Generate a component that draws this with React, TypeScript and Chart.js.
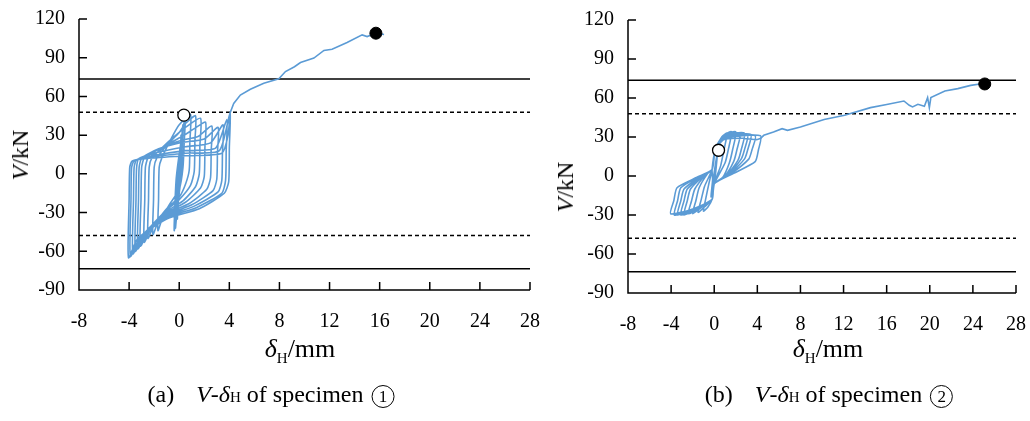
import React, { useEffect, useRef } from "react";
import { Chart, registerables } from "chart.js";

Chart.register(...registerables);

type Pt = [number, number];

const xTicks = [-8, -4, 0, 4, 8, 12, 16, 20, 24, 28];
const yTicks = [-90, -60, -30, 0, 30, 60, 90, 120];
const limitSolid = 73.6;
const limitDashed = 47.8;

const spec1Cycles: Pt[] = [
  [0, 0], [0.15, 30], [0.05, 2], [-0.15, -35], [-0.05, -2],
  [0.3, 38], [0.15, 5], [-0.1, -20], [-0.3, -42], [-0.15, -8], [0.05, 15],
  [0.45, 43], [0.3, 10], [0, -15], [-0.4, -44], [-0.25, -5], [0.1, 22],
  [0.5, 45], [0.4, 25], [0.3, 5], [0, -12], [-0.8, -24], [-1.3, -33], [-1.7, -44], [-1.65, -20], [-1.6, 5], [-1.4, 12], [-0.6, 28], [0, 38],
  [0.9, 46], [0.85, 25], [0.8, 3], [0.5, -8], [0, -18], [-0.9, -26], [-1.6, -35], [-2.1, -47], [-2.05, -20], [-2, 5], [-1.8, 12], [-1, 22], [0, 32], [0.5, 39],
  [1.3, 45], [1.25, 25], [1.2, 2], [0.9, -9], [0, -20], [-1, -28], [-1.9, -37], [-2.5, -50], [-2.45, -20], [-2.4, 5], [-2.2, 12], [-1.5, 19], [-0.5, 28], [0.5, 36],
  [1.7, 43], [1.65, 22], [1.6, 0], [1.3, -10], [0.3, -21], [-1, -29], [-2.1, -39], [-2.8, -53], [-2.75, -20], [-2.7, 5], [-2.5, 12], [-1.7, 17], [-0.7, 24], [0.4, 30], [1.2, 35],
  [2.1, 40], [2.05, 20], [2, -2], [1.7, -11], [0.5, -22], [-1, -30], [-2.3, -41], [-3.1, -56], [-3.05, -20], [-3, 5], [-2.8, 12], [-2, 17], [-1, 22], [0.2, 26], [1.5, 29],
  [2.6, 37], [2.55, 18], [2.5, -3], [2.2, -12], [0.8, -23], [-1, -31], [-2.5, -43], [-3.3, -58], [-3.25, -20], [-3.2, 5], [-3, 12], [-2, 18], [0, 24], [2, 27],
  [3.1, 36], [3.05, 16], [3, -4], [2.7, -13], [1, -24], [-1, -32], [-2.7, -45], [-3.5, -60], [-3.45, -20], [-3.4, 5], [-3.2, 12], [-2, 16], [0.5, 21], [2.5, 24],
  [3.5, 38], [3.45, 16], [3.4, -5], [3.1, -14], [1.2, -25], [-1, -33], [-2.9, -47], [-3.7, -62], [-3.65, -20], [-3.6, 5], [-3.4, 11], [-2.2, 14], [0.5, 18], [2.9, 20],
  [3.8, 42], [3.75, 18], [3.7, -5], [3.4, -15], [1.4, -26], [-1, -34], [-3.1, -49], [-3.9, -64], [-3.85, -20], [-3.8, 5], [-3.6, 10], [-2.4, 13], [0.5, 16], [3.2, 18],
  [4.05, 47], [4, 20], [3.95, -6], [3.6, -15], [1.6, -27], [-1, -35], [-3.3, -50], [-4.05, -65], [-4, -20], [-3.95, 5], [-3.75, 10], [-2.6, 12], [0.5, 14], [3.4, 16], [3.9, 30], [4.05, 47],
];

const spec1Push: Pt[] = [
  [4.05, 47], [4.35, 54.6], [4.88, 61.1], [5.68, 65.5], [6.75, 70.2], [7.95, 73.6], [8.48, 79.3],
  [9.2, 83], [9.68, 86.3], [10.75, 89.7], [11.55, 95.6], [12.2, 96.6], [13.4, 101.8], [14.6, 107.7],
  [15, 106.4], [15.7, 109], [16.35, 108],
];

const spec1Yield: Pt = [0.37, 45.5];
const spec1Peak: Pt = [15.7, 109];

const spec2Cycles: Pt[] = [
  [0, 0], [0.2, 10], [0.05, 0], [-0.2, -10], [-0.05, 0],
  [0.3, 18], [0.15, 4], [0, -5], [-0.3, -16], [-0.15, -3], [-0.2, 5],
  [0.1, 20], [0.7, 30], [1.2, 33], [0.9, 20], [0.6, 8], [0, -6], [-0.2, -18], [-0.6, -24], [-1.0, -27], [-0.8, -18], [-0.5, -6], [-0.2, 5],
  [0.1, 21], [0.8, 31], [1.6, 34], [1.3, 20], [1.0, 10], [0, -6], [-0.2, -18], [-0.8, -23], [-1.5, -28], [-1.2, -18], [-0.9, -8], [-0.2, 5],
  [0.1, 21], [0.9, 31], [2.0, 34], [1.7, 20], [1.4, 10], [0.8, -1], [0, -6], [-0.2, -18], [-1, -23], [-2, -29], [-1.7, -19], [-1.4, -9], [-0.6, 2], [-0.2, 5],
  [0.1, 21], [0.9, 31], [2.4, 33], [2.1, 20], [1.8, 11], [1, 0], [0, -6], [-0.2, -18], [-1.2, -24], [-2.4, -29], [-2.1, -19], [-1.8, -10], [-0.8, 1], [-0.2, 5],
  [0.1, 21], [0.9, 31], [2.8, 33], [2.5, 20], [2.2, 12], [1.2, 1], [0, -6], [-0.2, -18], [-1.4, -24], [-2.8, -30], [-2.5, -19], [-2.2, -10], [-1, 0], [-0.2, 5],
  [0.1, 21], [0.9, 31], [3.1, 32], [2.8, 20], [2.5, 13], [1.4, 2], [0, -6], [-0.2, -18], [-1.6, -25], [-3.1, -30], [-2.8, -19], [-2.5, -10], [-1.2, -1], [-0.2, 5],
  [0.1, 21], [0.9, 30], [3.4, 32], [3.1, 20], [2.8, 13], [1.5, 2], [0, -6], [-0.2, -18], [-1.8, -25], [-3.4, -30], [-3.1, -19], [-2.8, -10], [-1.4, -1], [-0.2, 5],
  [0.1, 20], [0.9, 30], [3.8, 31], [3.5, 20], [3.2, 13], [1.6, 2], [0, -6], [-0.2, -18], [-2, -26], [-3.7, -30], [-3.4, -19], [-3.1, -9], [-1.5, -1], [-0.2, 5],
  [0.1, 20], [0.9, 29], [4.3, 31], [4.1, 20], [3.8, 11], [1.8, 2], [0, -6], [-0.2, -18], [-2.2, -26], [-4.05, -29], [-3.75, -19], [-3.45, -9], [-1.6, -1], [-0.2, 5],
  [0.1, 20], [0.9, 28], [2.6, 29], [3.9, 28], [4.3, 29],
];

const spec2Push: Pt[] = [
  [4.3, 29], [4.6, 31.3], [5.5, 33.8], [6.3, 36.4], [6.8, 35.1], [8, 37.7], [10.2, 43.4],
  [12.1, 46.7], [14.5, 52.6], [16, 55], [17.6, 57.7], [18.1, 54.4], [18.4, 53.1], [18.9, 55.2],
  [19.5, 53.6], [19.8, 60.3], [19.96, 52.6], [20.1, 60.3], [21.4, 65.4], [22.6, 67.2], [23.8, 69.7],
  [24.8, 71], [25.4, 71],
];

const spec2Yield: Pt = [0.4, 19.8];
const spec2Peak: Pt = [25.1, 70.8];

const CURVE = "#5B9BD5";
const FONT = "'Liberation Serif', 'Times New Roman', serif";

const toXY = (p: Pt[]) => p.map(([x, y]) => ({ x, y }));

const axesPlugin = {
  id: "innerAxes",
  afterDraw(chart: any) {
    const { ctx, chartArea: a, scales } = chart;
    const xs = scales.x;
    const ys = scales.y;
    ctx.save();
    ctx.strokeStyle = "#000";
    ctx.lineWidth = 1.5;
    ctx.beginPath();
    ctx.moveTo(a.left, a.top);
    ctx.lineTo(a.left, a.bottom);
    ctx.lineTo(a.right, a.bottom);
    for (const v of xTicks) {
      const px = xs.getPixelForValue(v);
      ctx.moveTo(px, a.bottom);
      ctx.lineTo(px, a.bottom - 8);
    }
    for (const v of yTicks) {
      const py = ys.getPixelForValue(v);
      ctx.moveTo(a.left, py);
      ctx.lineTo(a.left + 8, py);
    }
    ctx.stroke();
    ctx.restore();
  },
};

function hLine(v: number, dashed: boolean) {
  return {
    data: [
      { x: xTicks[0], y: v },
      { x: xTicks[xTicks.length - 1], y: v },
    ],
    showLine: true,
    borderColor: "#000",
    borderWidth: 1.5,
    borderDash: dashed ? [4, 3] : [],
    pointRadius: 0,
  };
}

function makeConfig(cycles: Pt[], push: Pt[], yieldPt: Pt, peakPt: Pt, yWidth: number, xHeight: number, padding: any): any {
  return {
    type: "scatter",
    data: {
      datasets: [
        { data: [{ x: yieldPt[0], y: yieldPt[1] }], pointRadius: 6, pointBackgroundColor: "#fff", pointBorderColor: "#000", pointBorderWidth: 1.3 },
        { data: [{ x: peakPt[0], y: peakPt[1] }], pointRadius: 6, pointBackgroundColor: "#000", pointBorderColor: "#000", pointBorderWidth: 1 },
        { data: toXY(cycles), showLine: true, borderColor: CURVE, borderWidth: 1.6, pointRadius: 0, tension: 0.2 },
        { data: toXY(push), showLine: true, borderColor: CURVE, borderWidth: 1.6, pointRadius: 0, tension: 0 },
        hLine(limitSolid, false),
        hLine(-limitSolid, false),
        hLine(limitDashed, true),
        hLine(-limitDashed, true),
      ],
    },
    options: {
      responsive: false,
      animation: false,
      devicePixelRatio: 1,
      layout: { padding },
      plugins: { legend: { display: false }, tooltip: { enabled: false } },
      events: [],
      scales: {
        x: {
          type: "linear",
          min: xTicks[0],
          max: xTicks[xTicks.length - 1],
          afterBuildTicks: (s: any) => { s.ticks = xTicks.map((v) => ({ value: v })); },
          afterFit: (s: any) => { s.height = xHeight; },
          grid: { display: true, drawOnChartArea: false, drawTicks: true, tickLength: 20, color: "rgba(0,0,0,0)" },
          border: { display: false },
          ticks: { color: "#000", font: { family: FONT, size: 20 }, padding: 0, maxRotation: 0, autoSkip: false, callback: (v: any) => String(v) },
        },
        y: {
          type: "linear",
          min: yTicks[0],
          max: yTicks[yTicks.length - 1],
          afterBuildTicks: (s: any) => { s.ticks = yTicks.map((v) => ({ value: v })); },
          afterFit: (s: any) => { s.width = yWidth; },
          grid: { display: true, drawOnChartArea: false, drawTicks: true, tickLength: 14, color: "rgba(0,0,0,0)" },
          border: { display: false },
          ticks: { color: "#000", font: { family: FONT, size: 20 }, padding: 0, autoSkip: false, callback: (v: any) => String(v) },
        },
      },
    },
    plugins: [axesPlugin],
  };
}

function Panel(props: any) {
  const ref = useRef<HTMLCanvasElement | null>(null);
  useEffect(() => {
    if (!ref.current) return;
    const chart = new Chart(ref.current, makeConfig(props.cycles, props.push, props.yieldPt, props.peakPt, props.yWidth, props.xHeight, props.padding));
    return () => chart.destroy();
  }, []);
  return (
    <canvas ref={ref} width={props.width} height={345}
      style={{ position: "absolute", left: props.left, top: 0, width: props.width, height: 345, display: "block" }} />
  );
}

const textBase: React.CSSProperties = { position: "absolute", fontFamily: FONT, color: "#000", whiteSpace: "nowrap" };

function XTitle({ cx }: { cx: number }) {
  return (
    <div style={{ ...textBase, left: cx, top: 336, fontSize: 26, lineHeight: "26px", transform: "translateX(-50%)" }}>
      <i>δ</i><span style={{ fontSize: 15, position: "relative", top: 6 }}>H</span>/mm
    </div>
  );
}

function YTitle({ cx, cy }: { cx: number; cy: number }) {
  return (
    <div style={{ ...textBase, left: cx, top: cy, fontSize: 24, lineHeight: "24px", transform: "translate(-50%, -50%) rotate(-90deg)" }}>
      <i>V</i>/kN
    </div>
  );
}

function Circled({ n }: { n: string }) {
  return (
    <span style={{ display: "inline-block", width: 21, height: 21, border: "1.3px solid #000", borderRadius: "50%", textAlign: "center", lineHeight: "21px", fontSize: 17, verticalAlign: "0px", marginLeft: 2 }}>{n}</span>
  );
}

function Caption({ cx, tag, num }: { cx: number; tag: string; num: string }) {
  return (
    <div style={{ ...textBase, left: cx, top: 382, fontSize: 24, lineHeight: "24px", transform: "translateX(-50%)" }}>
      {tag}<span style={{ display: "inline-block", width: 22 }} />
      <i>V</i>-<i>δ</i><span style={{ fontSize: 15 }}>H</span> of specimen <Circled n={num} />
    </div>
  );
}

export default function App() {
  return (
    <div style={{ position: "absolute", left: 0, top: 0, width: 1030, height: 421, background: "#fff", overflow: "hidden" }}>
      <Panel left={0} width={545} cycles={spec1Cycles} push={spec1Push} yieldPt={spec1Yield} peakPt={spec1Peak}
        yWidth={79} xHeight={55} padding={{ left: 0, right: 15, top: 19, bottom: 0 }} />
      <Panel left={540} width={490} cycles={spec2Cycles} push={spec2Push} yieldPt={spec2Yield} peakPt={spec2Peak}
        yWidth={88} xHeight={52} padding={{ left: 0, right: 14, top: 20, bottom: 0 }} />
      <YTitle cx={20} cy={155} />
      <YTitle cx={565} cy={187} />
      <XTitle cx={300} />
      <XTitle cx={828} />
      <Caption cx={271} tag="(a)" num="1" />
      <Caption cx={829} tag="(b)" num="2" />
    </div>
  );
}
